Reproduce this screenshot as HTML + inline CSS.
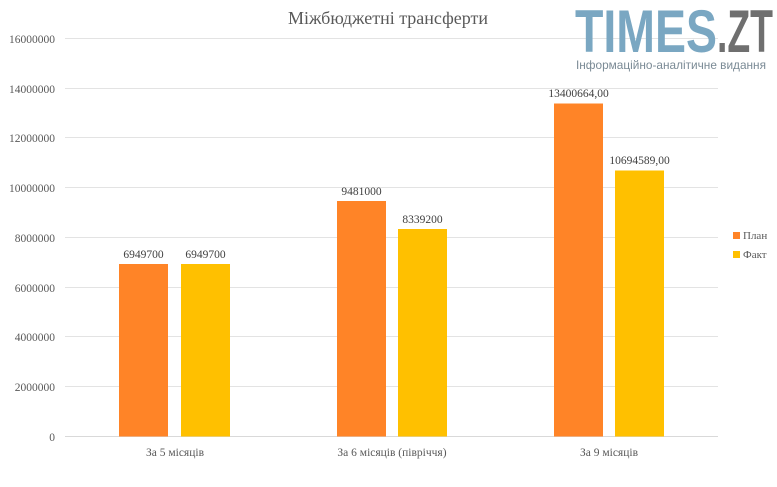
<!DOCTYPE html>
<html><head><meta charset="utf-8"><style>
body{margin:0;background:#fff;}
svg text{font-family:"Liberation Serif","DejaVu Serif",serif;}
</style></head><body>
<svg width="777" height="482" xmlns="http://www.w3.org/2000/svg">
<rect width="777" height="482" fill="#fff"/>
<g stroke="#e3e3e3" stroke-width="1">
<line x1="65" x2="718" y1="38.5" y2="38.5"/>
<line x1="65" x2="718" y1="88.5" y2="88.5"/>
<line x1="65" x2="718" y1="137.5" y2="137.5"/>
<line x1="65" x2="718" y1="187.5" y2="187.5"/>
<line x1="65" x2="718" y1="237.5" y2="237.5"/>
<line x1="65" x2="718" y1="287.5" y2="287.5"/>
<line x1="65" x2="718" y1="336.5" y2="336.5"/>
<line x1="65" x2="718" y1="386.5" y2="386.5"/>
<line x1="65" x2="718" y1="436.5" y2="436.5" stroke="#d9d9d9"/>
</g>
<g font-size="11.5" fill="#595959" text-anchor="end">
<text x="55" y="43">16000000</text>
<text x="55" y="93">14000000</text>
<text x="55" y="142">12000000</text>
<text x="55" y="192">10000000</text>
<text x="55" y="242">8000000</text>
<text x="55" y="292">6000000</text>
<text x="55" y="341">4000000</text>
<text x="55" y="391">2000000</text>
<text x="55" y="441">0</text>
</g>
<text x="388" y="24" font-size="18" fill="#595959" text-anchor="middle">Міжбюджетні трансферти</text>
<g fill="#FF8427">
<rect x="119" y="264" width="49" height="172.5"/>
<rect x="337" y="201" width="49" height="235.5"/>
<rect x="554" y="103.5" width="49" height="333"/>
</g>
<g fill="#FFC000">
<rect x="181" y="264" width="49" height="172.5"/>
<rect x="398" y="229" width="49" height="207.5"/>
<rect x="615" y="170.5" width="49" height="266"/>
</g>
<g font-size="11.5" fill="#404040" text-anchor="middle">
<text x="143.5" y="258">6949700</text>
<text x="205.5" y="258">6949700</text>
<text x="361.5" y="195">9481000</text>
<text x="422.5" y="223">8339200</text>
<text x="578.5" y="97">13400664,00</text>
<text x="639.5" y="164">10694589,00</text>
</g>
<g font-size="11.5" fill="#595959" text-anchor="middle">
<text x="175" y="456">За 5 місяців</text>
<text x="392" y="456">За 6 місяців (півріччя)</text>
<text x="609" y="456">За 9 місяців</text>
</g>
<rect x="733" y="232" width="7" height="7" fill="#FF8427"/>
<rect x="733" y="251" width="7" height="7" fill="#FFC000"/>
<g font-size="11" fill="#595959">
<text x="743" y="239">План</text>
<text x="743" y="258">Факт</text>
</g>
<g font-family="'Liberation Sans Narrow','Liberation Sans',sans-serif" font-weight="bold">
<text x="575" y="52" font-size="60" fill="#7aa7c2" textLength="142" lengthAdjust="spacingAndGlyphs" style="font-family:'Liberation Sans Narrow','Liberation Sans',sans-serif">TIMES</text>
<text x="717" y="52" font-size="60" fill="#6f6f6f" textLength="56" lengthAdjust="spacingAndGlyphs" style="font-family:'Liberation Sans Narrow','Liberation Sans',sans-serif">.ZT</text>
</g>
<text x="576" y="69" font-size="12" fill="#7a8a95" textLength="190" lengthAdjust="spacingAndGlyphs" style="font-family:'Liberation Sans',sans-serif">Інформаційно-аналітичне видання</text>
</svg>
</body></html>
